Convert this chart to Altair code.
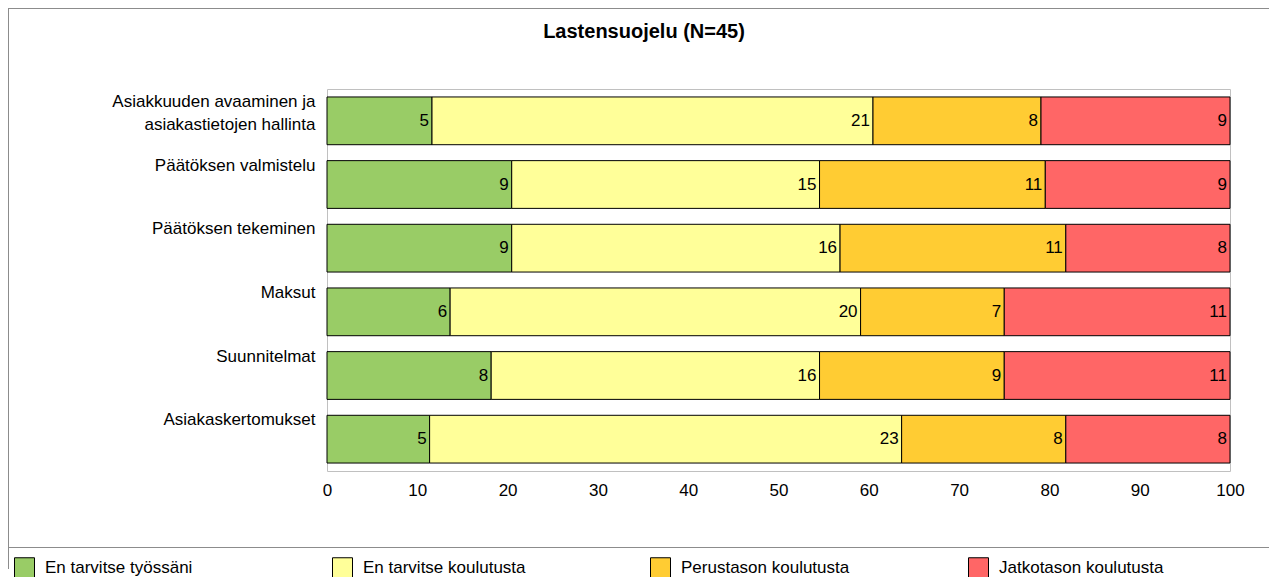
import altair as alt
import pandas as pd

categories = [
    "Asiakkuuden avaaminen ja\nasiakastietojen hallinta",
    "Päätöksen valmistelu",
    "Päätöksen tekeminen",
    "Maksut",
    "Suunnitelmat",
    "Asiakaskertomukset",
]
series = ["En tarvitse työssäni", "En tarvitse koulutusta", "Perustason koulutusta", "Jatkotason koulutusta"]
colors = ["#99CC66", "#FFFF99", "#FFCC33", "#FF6666"]
counts = {
    "En tarvitse työssäni": [5, 9, 9, 6, 8, 5],
    "En tarvitse koulutusta": [21, 15, 16, 20, 16, 23],
    "Perustason koulutusta": [8, 11, 11, 7, 9, 8],
    "Jatkotason koulutusta": [9, 9, 8, 11, 11, 8],
}
x_ticks = [0, 10, 20, 30, 40, 50, 60, 70, 80, 90, 100]
title_text = "Lastensuojelu (N=45)"

rows = []
for i, cat in enumerate(categories):
    total = sum(counts[s][i] for s in series)
    cum = 0.0
    for j, s in enumerate(series):
        c = counts[s][i]
        start = cum
        cum += c / total * 100
        rows.append({"cat": cat, "series": s, "order": j, "count": c, "start": start, "end": cum})
df = pd.DataFrame(rows)

FONT = "Liberation Sans"

y_enc = alt.Y(
    "cat:N",
    sort=categories,
    scale=alt.Scale(paddingInner=0.25, paddingOuter=0.125),
    axis=alt.Axis(
        title=None, ticks=False, tickSize=0, domain=False, labelPadding=12,
        labelFontSize=17, labelColor="black", labelBaseline="top", labelOffset=-27,
        labelLineHeight=23, labelLimit=400, labelAlign="right",
        labelExpr="split(datum.label, '\\n')",
    ),
)
x_scale = alt.Scale(domain=[0, 100], nice=False)

bars = alt.Chart(df).mark_bar(stroke="black", strokeWidth=1).encode(
    y=y_enc,
    x=alt.X(
        "start:Q", scale=x_scale,
        axis=alt.Axis(
            title=None, values=x_ticks, ticks=False, tickSize=0, domain=False, grid=False,
            labelPadding=11, labelFontSize=17, labelColor="black", labelFlush=False,
        ),
    ),
    x2="end:Q",
    color=alt.Color(
        "series:N",
        scale=alt.Scale(domain=series, range=colors),
        legend=alt.Legend(
            title=None, orient="none", legendX=-313, legendY=468, direction="horizontal",
            columns=4, gridAlign="all", columnPadding=116, symbolType="square",
            symbolSize=400, symbolStrokeColor="black", symbolStrokeWidth=1,
            labelFontSize=17, labelColor="black", labelOffset=10, labelLimit=400, padding=0,
        ),
    ),
    order="order:Q",
)

labels = alt.Chart(df).mark_text(
    align="right", baseline="middle", dx=-3, fontSize=17, color="black", font=FONT
).encode(
    y=alt.Y("cat:N", sort=categories),
    x=alt.X("end:Q", scale=x_scale),
    text="count:Q",
)

one = pd.DataFrame({"k": [0]})
frame_top = alt.Chart(one).mark_rule(color="#8c8c8c", strokeWidth=1).encode(
    x=alt.value(-319), x2=alt.value(942), y=alt.value(-80.5)
)
frame_left = alt.Chart(one).mark_rule(color="#8c8c8c", strokeWidth=1).encode(
    x=alt.value(-318.5), y=alt.value(-80.5), y2=alt.value(480)
)
legend_top = alt.Chart(one).mark_rule(color="#8c8c8c", strokeWidth=1).encode(
    x=alt.value(-319), x2=alt.value(942), y=alt.value(458.5)
)
title_mark = alt.Chart(one).mark_text(
    text=title_text, fontSize=20, fontWeight="bold", font=FONT, color="black",
    align="center", baseline="alphabetic",
).encode(x=alt.value(317), y=alt.value(-51))

chart = alt.layer(bars, labels, frame_top, frame_left, legend_top, title_mark).properties(
    width=903,
    height=382,
    autosize=alt.AutoSizeParams(type="none"),
    padding={"left": 319, "top": 81, "right": 39, "bottom": 106},
).configure(font=FONT).configure_view(stroke="#c0c0c0", strokeWidth=1, fill="white")

chart.save("out.html", embed_options={"renderer": "svg", "actions": False})
